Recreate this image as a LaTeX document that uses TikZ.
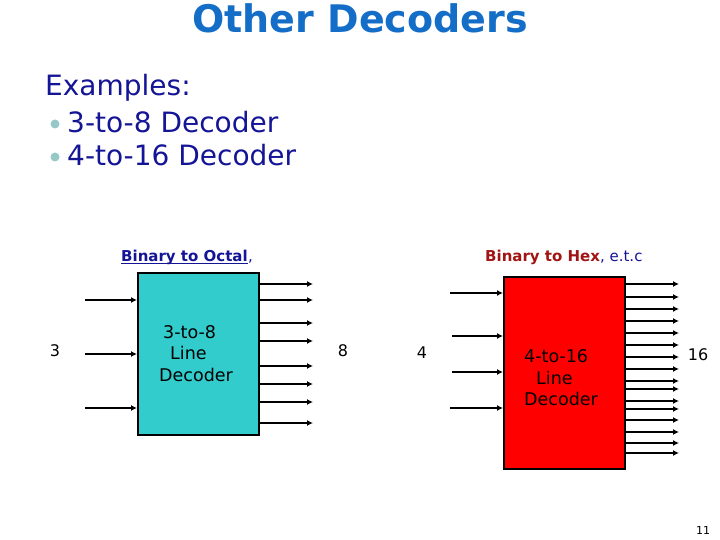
\documentclass[tikz,border=0pt]{standalone}
\usepackage{fontspec}
\setmainfont{DejaVu Sans}
\usetikzlibrary{arrows.meta}
\definecolor{titleblue}{RGB}{20,110,200}
\definecolor{navy}{RGB}{20,20,150}
\definecolor{darkred}{RGB}{160,20,20}
\definecolor{boxcyan}{RGB}{51,204,204}
\definecolor{bullet}{RGB}{150,200,200}
\tikzset{
  sig/.style={line width=2pt,-{Latex[length=6pt,width=6pt]}},
  decbox/.style={draw=black,line width=1.8pt,anchor=north west,inner sep=0pt},
  boxtext/.style={font=\fontsize{17.5}{20}\selectfont,text=black,anchor=west,inner sep=0pt},
  lbl/.style={font=\fontsize{16}{18}\selectfont,text=black},
  bigtext/.style={font=\fontsize{28}{32}\selectfont,text=navy,anchor=west,inner sep=0pt}
}
\begin{document}
\begin{tikzpicture}[x=1pt,y=-1pt]
\useasboundingbox (0,0) rectangle (720,540);
% title
\node[font=\bfseries\fontsize{38}{40}\selectfont,text=titleblue] (title) at (360,18) {Other Decoders};
% examples
\node[bigtext] (ex) at (45,88) {Examples:};
\fill[bullet] (55,124) circle (4.5);
\fill[bullet] (55,157) circle (4.5);
\node[bigtext] (e1) at (67,122) {3-to-8 Decoder};
\node[bigtext] (e2) at (67,155) {4-to-16 Decoder};
% labels
\node[font=\bfseries\fontsize{15}{16}\selectfont,anchor=base west,inner sep=0pt,text=navy] (octal) at (121,261) {Binary to Octal};
\node[font=\fontsize{15}{16}\selectfont,anchor=base west,inner sep=0pt,text=navy] (comma) at (octal.base east) {,};
\draw[navy,line width=1pt] ([yshift=-2.5pt]octal.base west) -- ([yshift=-2.5pt]octal.base east);
\node[font=\fontsize{15}{16}\selectfont,anchor=base west,inner sep=0pt] (hex) at (485,261) {\textcolor{darkred}{\bfseries Binary to Hex}\textcolor{navy}{, e.t.c}};
% left decoder
\node[decbox,fill=boxcyan,minimum width=121pt,minimum height=162pt] (d1) at (137,272) {};
\node[boxtext] (t1a) at (163,332) {3-to-8};
\node[boxtext] (t1b) at (170,353) {Line};
\node[boxtext] (t1c) at (159,375) {Decoder};
\foreach \y [count=\i] in {300,354,408} {
  \coordinate (i\i) at (85,\y);
  \draw[sig] (i\i) -- (d1.west |- i\i);
}
\foreach \y [count=\i] in {284,300,323,341,366,384,402,423} {
  \coordinate (o\i) at (313,\y);
  \draw[sig] (d1.east |- o\i) -- (o\i);
}
\node[lbl] (n3) at (55,351) {3};
\node[lbl] (n8) at (343,351) {8};
% right decoder
\node[decbox,fill=red,minimum width=121pt,minimum height=192pt] (d2) at (503,276) {};
\node[boxtext] (t2a) at (524,356) {4-to-16};
\node[boxtext] (t2b) at (536,378) {Line};
\node[boxtext] (t2c) at (524,399) {Decoder};
\foreach \y/\x [count=\i] in {293/450,336/452,372/452,408/450} {
  \coordinate (j\i) at (\x,\y);
  \draw[sig] (j\i) -- (d2.west |- j\i);
}
\foreach \y [count=\i] in {284,297,309,321,333,345,357,369,381,389,401,409,420,432,443,453} {
  \coordinate (p\i) at (679,\y);
  \draw[sig] (d2.east |- p\i) -- (p\i);
}
\node[lbl] (n4) at (422,353) {4};
\node[lbl] (n16) at (698,355) {16};
% page number
\node[font=\fontsize{11}{12}\selectfont] (pg) at (703,530) {11};
\end{tikzpicture}
\end{document}
